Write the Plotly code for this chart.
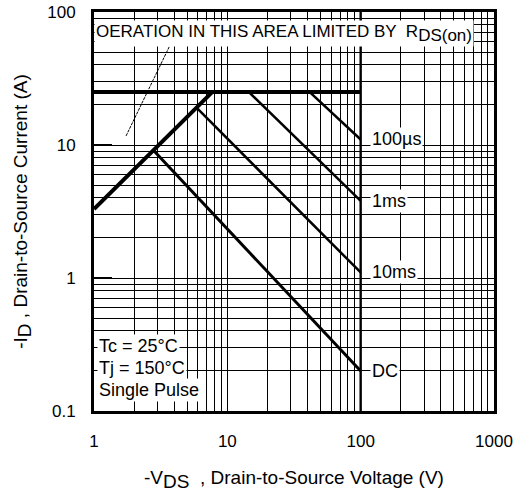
import math
import plotly.graph_objects as go

# --- data (V in volts, I in amps) ---
limit_v = [1, 100]
limit_i = [25, 25]

rds_v = [1, 7.7]
rds_i = [3.3, 25]

us100_v = [41.5, 100]
us100_i = [25, 11]

ms1_v = [14.5, 100]
ms1_i = [25, 3.8]

ms10_v = [5.9, 100]
ms10_i = [19, 1.1]

dc_v = [2.8, 100]
dc_i = [9.1, 0.2]

vmax_v = [100, 100]
vmax_i = [0.1, 100]

pointer_v = [1.74, 4.1]
pointer_i = [11.7, 69]

curve_labels = ["100µs", "1ms", "10ms", "DC"]
curve_label_v = 100
curve_label_i = [11, 3.8, 1.1, 0.2]

cond_lines = ["Tc = 25°C", "Tj = 150°C", "Single Pulse"]
cond_v = 1
cond_i = [0.31, 0.21, 0.144]

note_v = 1
note_i = 84

x_ticks = [1, 10, 100, 1000]
y_ticks = [0.1, 1, 10, 100]

FONT = "Liberation Sans, Arial, sans-serif"
BIG_SUB = "<sub><span style='font-size:{}px'>{}</span></sub>"

fig = go.Figure()

def add_line(xs, ys, w, dash="solid"):
    fig.add_trace(go.Scatter(x=xs, y=ys, mode="lines",
                             line=dict(color="black", width=w, dash=dash),
                             showlegend=False, hoverinfo="skip"))

add_line(vmax_v, vmax_i, 2.4)
add_line(limit_v, limit_i, 4)
add_line(rds_v, rds_i, 4)
add_line(us100_v, us100_i, 2.5)
add_line(ms1_v, ms1_i, 2.5)
add_line(ms10_v, ms10_i, 2.5)
add_line(dc_v, dc_i, 3)
add_line(pointer_v, pointer_i, 1, dash="3px,1px")

for lab, yi in zip(curve_labels, curve_label_i):
    fig.add_annotation(x=math.log10(curve_label_v), y=math.log10(yi),
                       xref="x", yref="y", text=lab,
                       showarrow=False, xanchor="left", yanchor="middle",
                       xshift=9, bgcolor="white",
                       font=dict(family=FONT, size=18, color="black"))

for lab, yi in zip(cond_lines, cond_i):
    fig.add_annotation(x=math.log10(cond_v), y=math.log10(yi),
                       xref="x", yref="y", text=lab,
                       showarrow=False, xanchor="left", yanchor="middle",
                       xshift=3, bgcolor="white",
                       font=dict(family=FONT, size=18, color="black"))

fig.add_annotation(x=math.log10(note_v), y=math.log10(note_i),
                   xref="x", yref="y",
                   text="OERATION IN THIS AREA LIMITED BY  R" + BIG_SUB.format(17, "DS(on)"),
                   showarrow=False, xanchor="left", yanchor="top",
                   xshift=0, yshift=2, bgcolor="white",
                   font=dict(family=FONT, size=17, color="black"))

fig.update_layout(
    width=526, height=492,
    margin=dict(l=94, r=32, t=12, b=81),
    paper_bgcolor="white", plot_bgcolor="white",
    font=dict(family=FONT, size=17, color="black"),
)

fig.update_xaxes(
    type="log", range=[0, 3], automargin=False,
    tickvals=x_ticks, ticktext=[str(v) for v in x_ticks],
    showgrid=True, gridcolor="black", gridwidth=1.3,
    minor=dict(dtick="D1", showgrid=True, gridcolor="black", gridwidth=1.3),
    showline=True, linecolor="black", linewidth=3, mirror=True,
    ticks="", ticklabelstandoff=13, ticklabeloverflow="allow",
    tickfont=dict(family=FONT, size=17),
    title=dict(text="-V" + BIG_SUB.format(19, "DS") + "  , Drain-to-Source Voltage (V)",
               font=dict(family=FONT, size=19), standoff=23),
    zeroline=False,
)
fig.update_yaxes(
    type="log", range=[-1, 2], automargin=False,
    tickvals=y_ticks, ticktext=["0.1", "1", "10", "100"],
    showgrid=True, gridcolor="black", gridwidth=1.3,
    minor=dict(dtick="D1", showgrid=True, gridcolor="black", gridwidth=1.3),
    showline=True, linecolor="black", linewidth=3, mirror=True,
    ticks="inside", ticklen=18, tickwidth=2, tickcolor="black",
    ticklabelstandoff=12, ticklabeloverflow="allow",
    tickfont=dict(family=FONT, size=17),
    title=dict(text="-I" + BIG_SUB.format(19, "D") + " , Drain-to-Source Current (A)",
               font=dict(family=FONT, size=19), standoff=15),
    zeroline=False,
)

fig.write_html("out.html", config={"displayModeBar": False},
               post_script="document.body.style.margin='0px';")
